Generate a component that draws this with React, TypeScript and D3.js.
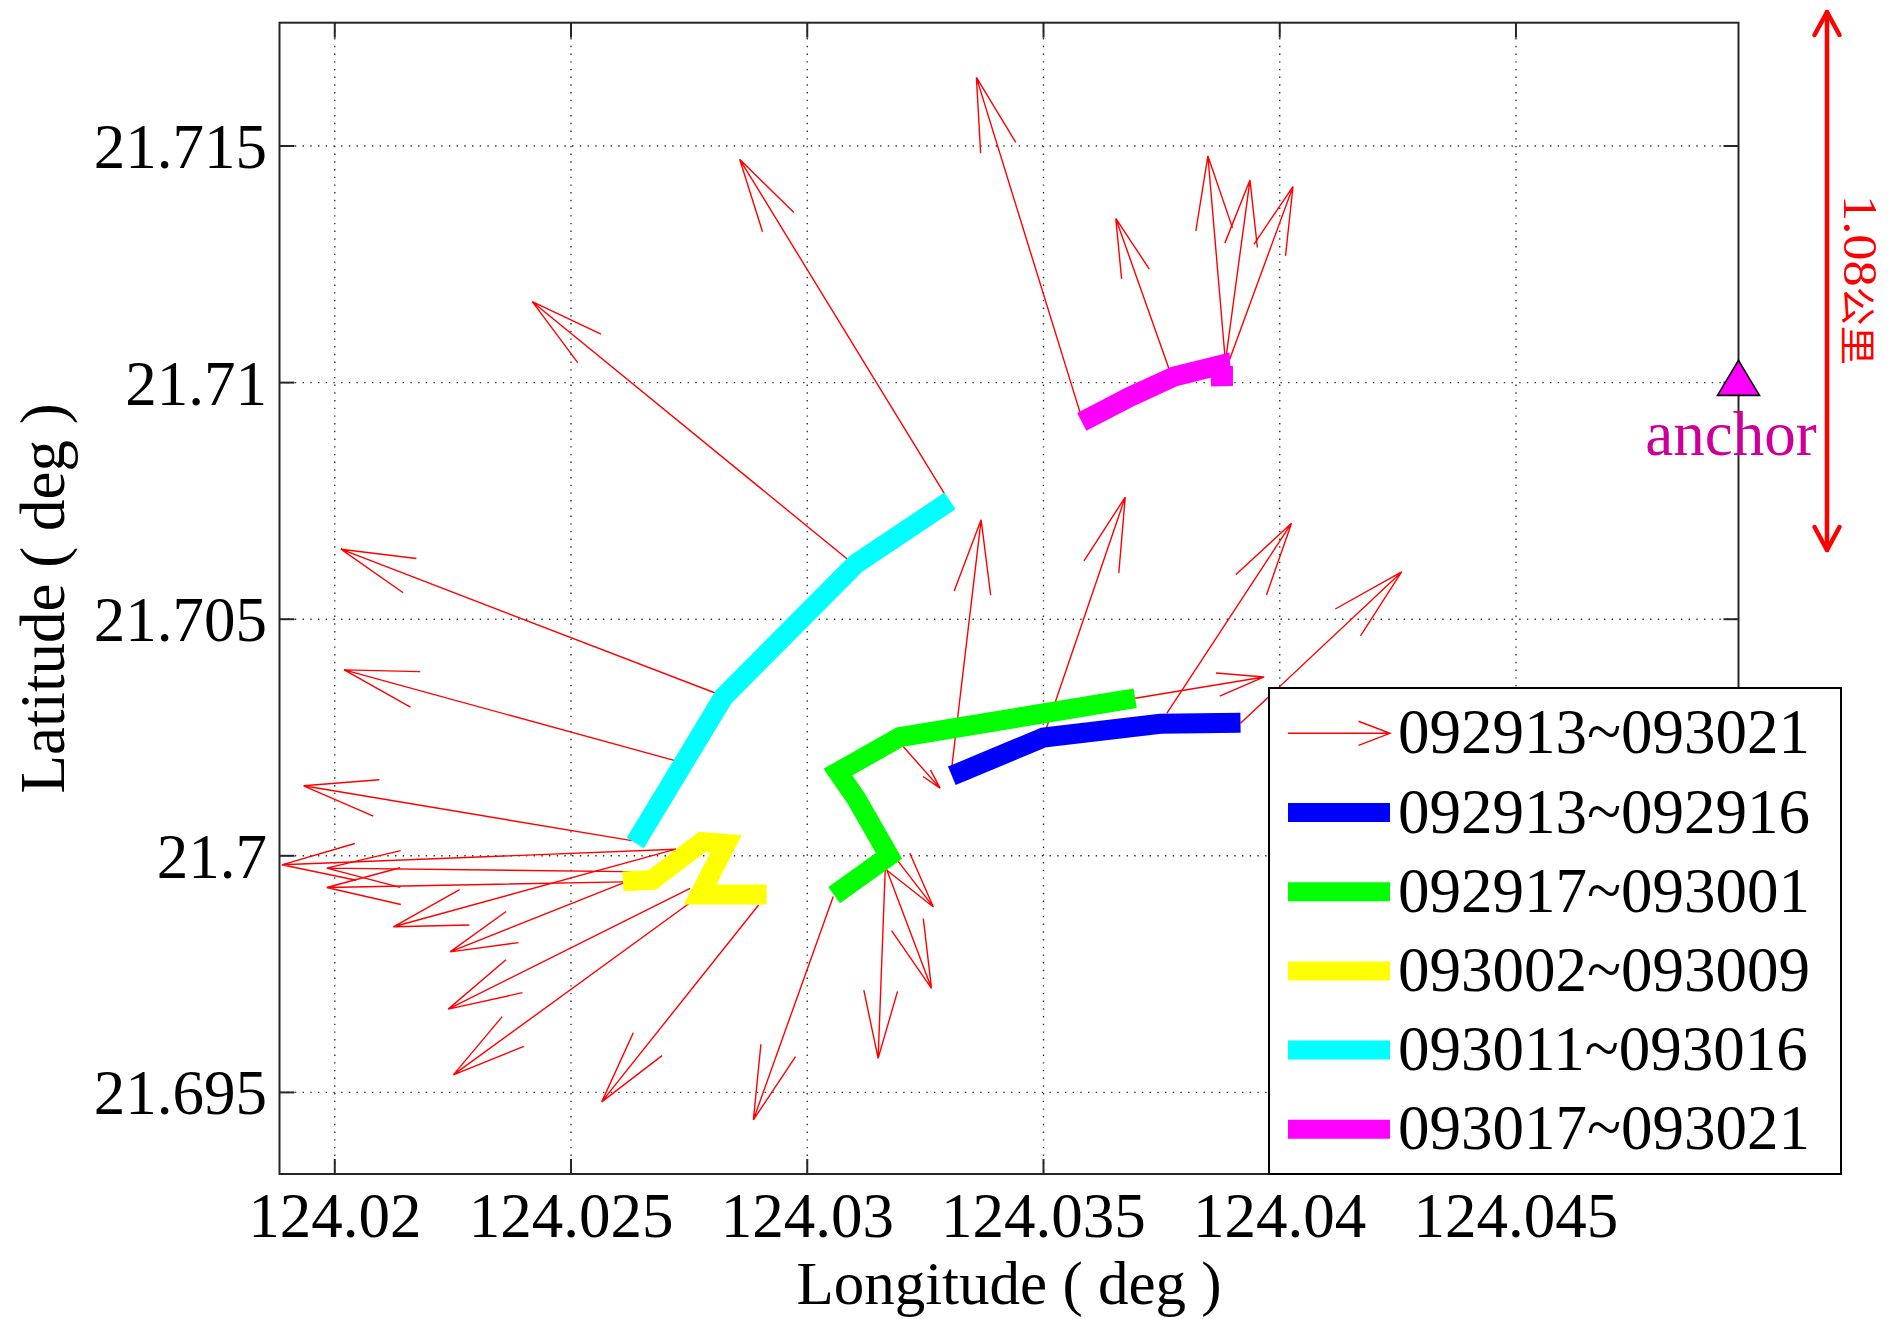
import React from "react";
import * as d3 from "d3";

const W = 1890;
const H = 1319;
const SERIF = '"Liberation Serif", "Times New Roman", "DejaVu Serif", serif';

// ---- axes ----
const xDomain = [124.01883, 124.04971];
const yDomain = [21.693276, 21.717606];
const xTicks = [124.02, 124.025, 124.03, 124.035, 124.04, 124.045];
const xTickLabels = ["124.02", "124.025", "124.03", "124.035", "124.04", "124.045"];
const yTicks = [21.695, 21.7, 21.705, 21.71, 21.715];
const yTickLabels = ["21.695", "21.7", "21.705", "21.71", "21.715"];
const xLabel = "Longitude ( deg )";
const yLabel = "Latitude ( deg )";

// ---- legend ----
const legendLabels = [
  "092913~093021",
  "092913~092916",
  "092917~093001",
  "093002~093009",
  "093011~093016",
  "093017~093021",
];
const trackColors = ["#0000FF", "#00FF00", "#FFFF00", "#00FFFF", "#FF00FF"];

// ---- tracks (lon / lat) ----
const blueLon = [124.03306, 124.035, 124.03747, 124.03917];
const blueLat = [21.70169, 21.7025, 21.70279, 21.70281];

const greenLon = [124.03694, 124.03196, 124.03065, 124.03103, 124.03173, 124.03057];
const greenLat = [21.70333, 21.70251, 21.70177, 21.70122, 21.7, 21.69917];

const yellowLon = [124.02914, 124.02773, 124.02828, 124.02777, 124.02672, 124.0261];
const yellowLat = [21.69918, 21.69918, 21.70025, 21.70029, 21.69949, 21.69946];

const cyanLon = [124.02636, 124.02823, 124.03103, 124.03302];
const cyanLat = [21.70027, 21.70336, 21.70617, 21.7075];

const magentaLon = [124.03581, 124.03683, 124.03777, 124.03874, 124.03876, 124.03876, 124.03901];
const magentaLat = [21.70917, 21.7097, 21.71013, 21.71037, 21.70993, 21.71014, 21.71014];

const trackLons = [blueLon, greenLon, yellowLon, cyanLon, magentaLon];
const trackLats = [blueLat, greenLat, yellowLat, cyanLat, magentaLat];

// ---- vectors (tail -> tip) ----
const arrowTailLon = [
  124.03306, 124.035, 124.03761, 124.03917,
  124.03694, 124.03203, 124.03121, 124.03061, 124.03165, 124.03055,
  124.02897, 124.0277, 124.02752, 124.02722, 124.02722, 124.0266, 124.0261, 124.02611,
  124.02629, 124.02724, 124.02808, 124.03091, 124.0329,
  124.03578, 124.03769, 124.03885, 124.03885, 124.03891,
];
const arrowTailLat = [
  21.70188, 21.70252, 21.70301, 21.7028,
  21.70333, 21.70231, 21.70095, 21.70158, 21.6997, 21.69914,
  21.69896, 21.69914, 21.69931, 21.70014, 21.70014, 21.69966, 21.69945, 21.69943,
  21.70032, 21.702, 21.70343, 21.70622, 21.70766,
  21.70935, 21.7102, 21.71044, 21.71044, 21.71041,
];
const arrowTipLon = [
  124.03368, 124.03673, 124.04025, 124.04258,
  124.03967, 124.03281, 124.03263, 124.03267, 124.0315, 124.02886,
  124.02565, 124.02251, 124.0224, 124.02124, 124.01888, 124.01983, 124.01983, 124.02244,
  124.01934, 124.0202, 124.02013, 124.02418, 124.02857,
  124.03358, 124.03653, 124.03848, 124.03937, 124.04028,
];
const arrowTipLat = [
  21.7071, 21.70758, 21.70703, 21.706,
  21.70378, 21.70143, 21.6972, 21.69892, 21.69572, 21.69442,
  21.6948, 21.69537, 21.69676, 21.6985, 21.69981, 21.69974, 21.69933, 21.69797,
  21.70148, 21.70393, 21.70648, 21.71171, 21.71472,
  21.71645, 21.71347, 21.71479, 21.71428, 21.71414,
];

// ---- anchor ----
const anchorLon = 124.04971;
const anchorLat = 21.7101;
const anchorLabel = "anchor";
const distanceNumber = "1.08";
const distanceUnit = "公里";

function arrowPath(
  x1: number,
  y1: number,
  x2: number,
  y2: number,
  ratio: number,
  hMax: number,
  angDeg: number
) {
  const dx = x2 - x1;
  const dy = y2 - y1;
  const L = Math.hypot(dx, dy);
  const h = Math.min(ratio * L, hMax);
  const back = Math.atan2(dy, dx) + Math.PI;
  const t = (angDeg * Math.PI) / 180;
  const b1x = x2 + h * Math.cos(back + t);
  const b1y = y2 + h * Math.sin(back + t);
  const b2x = x2 + h * Math.cos(back - t);
  const b2y = y2 + h * Math.sin(back - t);
  return `M${x1},${y1}L${x2},${y2}M${b1x},${b1y}L${x2},${y2}L${b2x},${b2y}`;
}

export default function App() {
  const left = 279.5;
  const right = 1738.5;
  const top = 22.7;
  const bottom = 1174;
  const x = d3.scaleLinear().domain(xDomain).range([left, right]);
  const y = d3.scaleLinear().domain(yDomain).range([bottom, top]);

  const trackPath = (lons: number[], lats: number[]) =>
    d3
      .line<number>()
      .x((d) => x(d))
      .y((_, i) => y(lats[i]))(lons) || "";

  const tickLen = 15;
  const gridDash = "1.4 6.3";

  const ax = x(anchorLon);
  const ay = y(anchorLat);

  // legend geometry
  const lgX0 = 1269;
  const lgY0 = 688;
  const lgX1 = 1841;
  const lgY1 = 1174;
  const rowCenter = (i: number) => 733.3 + i * 79.2;

  return (
    <svg
      width={W}
      height={H}
      viewBox={`0 0 ${W} ${H}`}
      style={{ position: "absolute", left: 0, top: 0, display: "block", background: "#fff" }}
    >
      <rect x={0} y={0} width={W} height={H} fill="#fff" />
      <rect x={left} y={top} width={right - left} height={bottom - top} fill="#fff" />

      {/* grid */}
      <g stroke="#333" strokeWidth={1.4} strokeDasharray={gridDash}>
        {xTicks.map((t, i) => (
          <line key={"gx" + i} x1={x(t)} x2={x(t)} y1={top} y2={bottom} />
        ))}
        {yTicks.map((t, i) => (
          <line key={"gy" + i} x1={left} x2={right} y1={y(t)} y2={y(t)} />
        ))}
      </g>

      {/* vectors */}
      <g stroke="#FF0000" strokeWidth={1.4} fill="none" strokeLinejoin="miter">
        {arrowTailLon.map((lon, i) => (
          <path
            key={"a" + i}
            d={arrowPath(
              x(lon),
              y(arrowTailLat[i]),
              x(arrowTipLon[i]),
              y(arrowTipLat[i]),
              0.37,
              76,
              14
            )}
          />
        ))}
      </g>

      {/* tracks */}
      <g fill="none" strokeWidth={20} strokeLinecap="butt" strokeLinejoin="miter" strokeMiterlimit={2.2}>
        {trackLons.map((lons, i) => (
          <path key={"t" + i} d={trackPath(lons, trackLats[i])} stroke={trackColors[i]} />
        ))}
      </g>

      {/* axes box and ticks */}
      <g stroke="#262626" strokeWidth={2} fill="none">
        <rect x={left} y={top} width={right - left} height={bottom - top} />
        {xTicks.map((t, i) => (
          <g key={"tx" + i}>
            <line x1={x(t)} x2={x(t)} y1={bottom} y2={bottom - tickLen} />
            <line x1={x(t)} x2={x(t)} y1={top} y2={top + tickLen} />
          </g>
        ))}
        {yTicks.map((t, i) => (
          <g key={"ty" + i}>
            <line x1={left} x2={left + tickLen} y1={y(t)} y2={y(t)} />
            <line x1={right} x2={right - tickLen} y1={y(t)} y2={y(t)} />
          </g>
        ))}
      </g>

      {/* tick labels */}
      <g fontFamily={SERIF} fontSize={63} fill="#000">
        {xTicks.map((t, i) => (
          <text key={"lx" + i} x={x(t)} y={1237} textAnchor="middle">
            {xTickLabels[i]}
          </text>
        ))}
        {yTicks.map((t, i) => (
          <text key={"ly" + i} x={267} y={y(t) + 22} textAnchor="end">
            {yTickLabels[i]}
          </text>
        ))}
        <text x={(left + right) / 2} y={1304} textAnchor="middle" fontSize={61}>
          {xLabel}
        </text>
        <text transform={`translate(64,${(top + bottom) / 2}) rotate(-90)`} textAnchor="middle">
          {yLabel}
        </text>
      </g>

      {/* anchor */}
      <path
        d={`M${ax},${ay - 17.5}L${ax + 21},${ay + 17.5}L${ax - 21},${ay + 17.5}Z`}
        fill="#FF00FF"
        stroke="#000"
        strokeWidth={1.6}
      />
      <text x={1731} y={455} textAnchor="middle" fontFamily={SERIF} fontSize={63} fill="#CC0099">
        {anchorLabel}
      </text>

      {/* distance indicator */}
      <g stroke="#FF0000" strokeWidth={4.5} fill="none" strokeLinecap="round" strokeLinejoin="round">
        <line x1={1827} x2={1827} y1={12} y2={550} />
        <path d={`M${1827 - 12.5},${12 + 23}L1827,12L${1827 + 12.5},${12 + 23}`} />
        <path d={`M${1827 - 12.5},${550 - 23}L1827,550L${1827 + 12.5},${550 - 23}`} />
      </g>
      <text
        transform="translate(1844,280) rotate(90)"
        textAnchor="middle"
        fontFamily={SERIF}
        fontSize={48}
        fill="#FF0000"
        textLength={170}
        lengthAdjust="spacingAndGlyphs"
      >
        {distanceNumber}
        <tspan fontFamily={'"Noto Sans CJK SC", "Noto Sans CJK TC", sans-serif'} fontSize={36}>
          {distanceUnit}
        </tspan>
      </text>

      {/* legend */}
      <rect
        x={lgX0}
        y={lgY0}
        width={lgX1 - lgX0}
        height={lgY1 - lgY0}
        fill="#fff"
        stroke="#000"
        strokeWidth={2}
      />
      <path
        d={arrowPath(1288, rowCenter(0), 1390, rowCenter(0), 1, 33.7, 21)}
        stroke="#FF0000"
        strokeWidth={1.4}
        fill="none"
      />
      {trackColors.map((c, i) => (
        <line
          key={"lg" + i}
          x1={1288}
          x2={1390}
          y1={rowCenter(i + 1)}
          y2={rowCenter(i + 1)}
          stroke={c}
          strokeWidth={19}
        />
      ))}
      <g fontFamily={SERIF} fontSize={63} fill="#000">
        {legendLabels.map((s, i) => (
          <text key={"lt" + i} x={1398} y={rowCenter(i) + 20}>
            {s}
          </text>
        ))}
      </g>
    </svg>
  );
}
